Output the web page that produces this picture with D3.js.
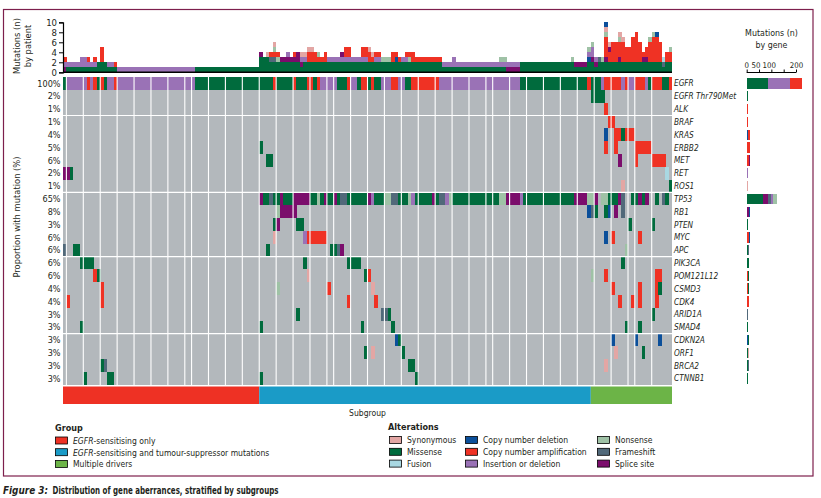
<!DOCTYPE html>
<html><head><meta charset="utf-8">
<script src="https://cdn.jsdelivr.net/npm/d3@7/dist/d3.min.js"></script>
<style>
body{margin:0;background:#fff}
svg{display:block}
text{font-family:"Liberation Sans Narrow","DejaVu Sans Condensed","Liberation Sans",Arial,sans-serif;fill:#231f20}
</style></head><body>
<svg id="c" width="821" height="498"></svg>
<script>
// ---------------- DATA ----------------
const nPatients = 180;
const genes = ["EGFR","EGFR Thr790Met","ALK","BRAF","KRAS","ERBB2","MET","RET","ROS1","TP53","RB1","PTEN","MYC","APC","PIK3CA","POM121L12","CSMD3","CDK4","ARID1A","SMAD4","CDKN2A","ORF1","BRCA2","CTNNB1"];
const pctLabels = ["100%","2%","1%","1%","4%","5%","6%","2%","1%","65%","8%","3%","6%","6%","6%","6%","4%","4%","3%","3%","3%","3%","3%","3%"];
const groupNames = ["EGFR-sensitising only","EGFR-sensitising and tumour-suppressor mutations","Multiple drivers"];
const groupSizes = [58, 98, 24];
const altCodes = ["S","M","F","D","A","I","N","R","P"];
const altNames = ["Synonymous","Missense","Fusion","Copy number deletion","Copy number amplification","Insertion or deletion","Nonsense","Frameshift","Splice site"];
const patientTicks = [0,2,4,6,8,10];
const geneTicks = [0,50,100,150,200];
const geneTickLabels = ["0","50","100","","200"];
// vertical grid separators (patient boundaries)
const gridCols = [1,6,11,16,21,26,31,36,38,43,48,53,58,63,68,73,78,80,85,90,95,100,105,110,115,120,125,127,132,137,142,147,152,157,162,167,169,174];
const gridRows = [3,9,14,20];

// EGFR row, run-length [code, patients]
const egfrRuns = [["M",1],["I",6],["A",1],["I",1],["A",1],["M",1],["A",1],["M",1],["I",2],["A",1],["I",23],["M",19],
 ["M",4],["A",1],["M",5],["A",1],["M",3],["A",2],["M",1],["A",1],["I",5],["M",3],["A",1],["I",2],["M",1],["A",2],["M",1],["A",1],["M",2],["I",3],["A",2],["I",2],["M",2],["A",8],["I",5],
 ["I",19],["M",20],["A",1],["M",3],["I",1],["A",5],["I",1],["A",1],["I",2],["A",3],["I",1],["M",1],["A",3],["M",2],["A",1]];
// TP53 row, run-length ("-" = none)
const tp53Runs = [["-",58],["P",1],["M",2],["R",1],["M",2],["P",1],["M",3],["P",5],["M",2],["N",1],["M",1],["P",1],["M",2],["P",1],["M",1],["R",2],["M",6],["P",1],["I",1],["M",3],["N",2],["R",2],["M",3],["N",1],["I",1],["M",5],["P",1],["M",1],["R",2],["I",1],["N",1],["M",1],
 ["M",13],["N",2],["P",4],["I",1],["M",15],["P",4],["N",1],
 ["N",1],["P",1],["-",1],["N",2],["M",3],["P",1],["R",1],["-",2],["M",2],["P",1],["M",1],["P",1],["-",2],["M",1],["-",1],["R",1],["M",1],["-",1]];
// Other genes: [patient, code]
const sparseCells = {
 "EGFR Thr790Met":[[156,"M"],[157,"M"],[158,"M"],[159,"M"]],
 "ALK":[[160,"A"]],
 "BRAF":[[161,"A"],[162,"A"]],
 "KRAS":[[160,"D"],[163,"A"],[164,"A"],[165,"M"],[166,"A"],[167,"A"],[168,"A"]],
 "ERBB2":[[58,"M"],[160,"A"],[163,"A"],[169,"A"],[170,"A"],[171,"A"],[172,"A"],[173,"A"]],
 "MET":[[60,"M"],[61,"M"],[164,"P"],[169,"A"],[174,"A"],[175,"A"],[176,"A"],[177,"A"]],
 "RET":[[0,"P"],[1,"P"],[2,"M"],[178,"F"]],
 "ROS1":[[165,"S"],[179,"M"]],
 "RB1":[[63,"N"],[64,"P"],[65,"P"],[66,"P"],[67,"P"],[68,"P"],[155,"D"],[156,"R"],[157,"M"],[160,"M"],[161,"D"],[163,"P"],[165,"R"]],
 "PTEN":[[62,"M"],[63,"P"],[69,"M"],[70,"M"],[167,"M"],[174,"M"]],
 "MYC":[[62,"S"],[71,"I"],[72,"A"],[73,"A"],[74,"A"],[75,"A"],[76,"A"],[77,"A"],[160,"D"],[162,"A"],[170,"A"]],
 "APC":[[0,"R"],[3,"M"],[4,"M"],[60,"M"],[79,"M"],[80,"M"],[81,"R"],[82,"P"],[166,"N"]],
 "PIK3CA":[[5,"M"],[6,"M"],[7,"M"],[8,"M"],[71,"M"],[84,"M"],[85,"M"],[86,"M"],[87,"M"],[165,"M"]],
 "POM121L12":[[9,"A"],[10,"M"],[72,"S"],[89,"M"],[90,"A"],[156,"N"],[160,"A"],[175,"A"],[176,"A"]],
 "CSMD3":[[11,"A"],[63,"N"],[78,"A"],[91,"S"],[162,"A"],[170,"A"],[175,"A"],[176,"M"]],
 "CDK4":[[1,"A"],[11,"A"],[84,"A"],[92,"A"],[164,"A"],[168,"A"],[170,"A"],[175,"A"]],
 "ARID1A":[[69,"M"],[94,"R"],[95,"R"],[96,"M"],[174,"M"]],
 "SMAD4":[[5,"M"],[58,"M"],[88,"M"],[97,"M"],[166,"M"],[170,"M"]],
 "CDKN2A":[[98,"D"],[99,"M"],[162,"D"],[169,"D"],[176,"D"]],
 "ORF1":[[89,"M"],[91,"S"],[100,"M"],[163,"S"],[171,"M"]],
 "BRCA2":[[11,"M"],[12,"R"],[102,"M"],[103,"M"],[160,"S"]],
 "CTNNB1":[[6,"M"],[13,"M"],[14,"M"],[58,"M"],[104,"M"]]
};
// Mutations by patient: stacked codes bottom->top, run-length [codes, patients]
const patientStackRuns = [
 ["PIA",1],["MI",4],["MII",2],["MIA",1],["MI",1],["MIA",1],["MM",1],["MMAAA",1],["MM",1],["MI",2],["MA",1],["I",23],["M",19],
 ["MMMP",1],["MMM",1],["MMMS",1],["MMRA",1],["MMRANS",1],["MMNA",1],["MMP",2],["MMPI",1],["MMP",1],["MMPA",1],["MMPP",1],["MPIS",1],["MMIS",1],["MMAAS",2],["MMAA",1],["MMAN",1],["MMA",1],["MMAA",1],["MMI",4],["MMIP",1],["MMIAA",2],["MMI",3],["MMIAA",2],["MMAAS",1],["MMAS",1],["MMIA",2],["MMN",3],["MMAA",1],["MMDA",1],["MMA",1],["MMI",1],["MMIA",1],["MMNA",1],["MMAA",1],["MMA",8],["MI",3],["MII",1],["MI",13],["MIN",2],["PI",4],["MM",15],["MMN",1],["MP",4],["MMDIN",1],
 ["MMPIIN",1],["MPI",1],["MMR",1],["MMN",1],["MMPAAAANSD",1],["MMAAPS",1],["MMAAAA",2],["MMPAAANS",1],["MMAAAAS",1],["MMAAA",2],["MMAAAAA",1],["MMAAAAAA",1],["MMAAAA",1],["MMPA",1],["MMPAA",1],["MMAAAAN",1],["MMAAAAAN",1],["MMAAAAAD",1],["MMAAAA",1],["MRF",1],["MMAA",1],["MMAAN",1]
];
// Mutations by gene: [code, count]
const geneCounts = {
 "EGFR":[["M",88],["I",88],["A",47]],
 "EGFR Thr790Met":[["M",6]],
 "ALK":[["A",3]],
 "BRAF":[["A",3]],
 "KRAS":[["D",4],["R",3],["A",5]],
 "ERBB2":[["A",13]],
 "MET":[["A",9],["P",4]],
 "RET":[["P",3],["I",2]],
 "ROS1":[["S",2]],
 "TP53":[["M",67],["P",20],["R",13],["I",5],["N",17]],
 "RB1":[["P",8],["D",6]],
 "PTEN":[["M",5]],
 "MYC":[["A",10],["D",3]],
 "APC":[["M",6],["R",2]],
 "PIK3CA":[["M",9]],
 "POM121L12":[["A",6],["M",2]],
 "CSMD3":[["A",6],["M",2]],
 "CDK4":[["A",8]],
 "ARID1A":[["M",3],["R",2]],
 "SMAD4":[["M",6]],
 "CDKN2A":[["D",4],["M",1]],
 "ORF1":[["M",4],["S",1]],
 "BRCA2":[["M",4],["R",1]],
 "CTNNB1":[["M",5]]
};

// ---------------- STYLE ----------------
const altColor = {S:"#e3a6a4",M:"#006b3d",F:"#a9d8e2",D:"#0b4f9a",A:"#ef3224",I:"#9a72b6",N:"#9fc2a6",R:"#51697a",P:"#7b0d6c"};
const groupColors = ["#ee3124","#1a9bc7","#6cb447"];
const bgGray = "#b3b8bc";
const frameColor = "#7d1f4c";

function expand(runs){ const out=[]; runs.forEach(([c,n])=>{for(let i=0;i<n;i++) out.push(c);}); return out; }

// ---------------- DRAW ----------------
const svg = d3.select("#c");
const M0 = 63, M1 = 672;
const xB = d3.scaleBand().domain(d3.range(nPatients)).range([M0,M1]);
const xL = d3.scaleLinear().domain([0,nPatients]).range([M0,M1]);
const yRow = d3.scaleBand().domain(genes).range([77,384.9]);
const yTop = d3.scaleLinear().domain([0,10]).range([72.3,22.3]);
const xGene = d3.scaleLinear().domain([0,200]).range([746.7,796]);

// frame
svg.append("rect").attr("x",3.5).attr("y",9.5).attr("width",809.5).attr("height",466.5)
  .attr("fill","none").attr("stroke",frameColor).attr("stroke-width",1.2);

// top stacked bars
const stacks = expand(patientStackRuns);
const topG = svg.append("g").attr("shape-rendering","crispEdges");
stacks.forEach((s,p)=>{
  s.split("").forEach((c,k)=>{
    topG.append("rect").attr("x",xB(p)).attr("width",xB.bandwidth()+0.3)
      .attr("y",yTop(k+1)).attr("height",yTop(k)-yTop(k+1)).attr("fill",altColor[c]);
  });
});
const yAx = svg.append("g").attr("transform",`translate(${M0},0)`)
  .call(d3.axisLeft(yTop).tickValues(patientTicks).tickSize(4).tickPadding(2));
yAx.select(".domain").attr("stroke","#000").attr("stroke-width",1.2);
yAx.selectAll(".tick line").attr("stroke","#000");
yAx.selectAll("text").style("font-size","9.5px").attr("fill","#231f20");
svg.append("line").attr("x1",M0).attr("x2",M1).attr("y1",72.3).attr("y2",72.3).attr("stroke","#000").attr("stroke-width",1.4);

svg.append("text").attr("transform","translate(20,46) rotate(-90)").attr("text-anchor","middle").style("font-size","9.3px").text("Mutations (n)");
svg.append("text").attr("transform","translate(31,46) rotate(-90)").attr("text-anchor","middle").style("font-size","9.3px").text("by patient");

// matrix
const matG = svg.append("g").attr("shape-rendering","crispEdges");
matG.append("rect").attr("x",M0).attr("y",yRow.range()[0]).attr("width",M1-M0)
  .attr("height",yRow.range()[1]-yRow.range()[0]).attr("fill",bgGray);
function drawCells(gene, list){
  matG.selectAll(null).data(list.filter(d=>d[1]!=="-")).enter().append("rect")
    .attr("x",d=>xB(d[0])).attr("width",xB.bandwidth()+0.3)
    .attr("y",yRow(gene)).attr("height",yRow.bandwidth())
    .attr("fill",d=>altColor[d[1]]);
}
drawCells("EGFR", expand(egfrRuns).map((c,i)=>[i,c]));
drawCells("TP53", expand(tp53Runs).map((c,i)=>[i,c]));
Object.keys(sparseCells).forEach(g=>drawCells(g, sparseCells[g]));
// white grid
svg.append("g").selectAll("line").data(gridCols).enter().append("line")
  .attr("x1",d=>xL(d)).attr("x2",d=>xL(d)).attr("y1",yRow.range()[0]).attr("y2",yRow.range()[1])
  .attr("stroke","#fff").attr("stroke-width",1.1);
svg.append("g").selectAll("line").data(gridRows).enter().append("line")
  .attr("x1",M0).attr("x2",M1).attr("y1",d=>yRow(genes[d])).attr("y2",d=>yRow(genes[d]))
  .attr("stroke","#fff").attr("stroke-width",1.2);

// row labels
svg.append("g").selectAll("text").data(genes).enter().append("text")
  .attr("x",674).attr("y",g=>yRow(g)+yRow.bandwidth()/2+3)
  .style("font-size","8.2px").style("font-style","italic").text(g=>g);
svg.append("g").selectAll("text").data(pctLabels).enter().append("text")
  .attr("x",60.5).attr("y",(d,i)=>yRow(genes[i])+yRow.bandwidth()/2+3.2).attr("text-anchor","end")
  .style("font-size","9px").text(d=>d);
svg.append("text").attr("transform","translate(20,217) rotate(-90)").attr("text-anchor","middle")
  .style("font-size","9.3px").text("Proportion with mutation (%)");

// group bar
let acc=0;
groupSizes.forEach((n,i)=>{
  svg.append("rect").attr("x",xL(acc)).attr("width",xL(acc+n)-xL(acc)).attr("y",386.5).attr("height",17.5).attr("fill",groupColors[i]);
  acc+=n;
});
svg.append("text").attr("x",(M0+M1)/2).attr("y",416).attr("text-anchor","middle").style("font-size","8.5px").text("Subgroup");

// gene bar chart
const gbG = svg.append("g").attr("shape-rendering","crispEdges");
genes.forEach(g=>{
  let s=0;
  const h = g==="EGFR"?11.7:10.4;
  (geneCounts[g]||[]).forEach(([c,n])=>{
    gbG.append("rect").attr("x",xGene(s)).attr("width",Math.max(xGene(s+n)-xGene(s),0.9))
      .attr("y",yRow(g)+(yRow.bandwidth()-h)/2).attr("height",h).attr("fill",altColor[c]);
    s+=n;
  });
});
const gAx = svg.append("g").attr("transform","translate(0,72.5)")
  .call(d3.axisTop(xGene).tickValues(geneTicks).tickFormat((d,i)=>geneTickLabels[i]).tickSize(3).tickPadding(1.5));
gAx.select(".domain").attr("stroke","#000").attr("d","M746.7,0H796");
gAx.selectAll(".tick line").attr("stroke","#000");
gAx.selectAll("text").style("font-size","7.8px").attr("fill","#231f20")
  .attr("dx",(d,i)=>[-0.5,-3.6,-2.6,0,0][i]);
svg.append("text").attr("x",771.5).attr("y",36).attr("text-anchor","middle").style("font-size","8.8px").text("Mutations (n)");
svg.append("text").attr("x",771.5).attr("y",47.5).attr("text-anchor","middle").style("font-size","8.8px").text("by gene");

// legends
svg.append("text").attr("x",55).attr("y",431).style("font-size","9px").style("font-weight","bold").text("Group");
groupNames.forEach((n,i)=>{
  const yy = 437 + i*11.7;
  svg.append("rect").attr("x",55.5).attr("y",yy).attr("width",12).attr("height",7).attr("fill",groupColors[i]).attr("stroke","#000").attr("stroke-width",0.8);
  const t = svg.append("text").attr("x",73).attr("y",yy+6.8).style("font-size","8.5px");
  if(n.startsWith("EGFR")){ t.append("tspan").style("font-style","italic").text("EGFR"); t.append("tspan").text(n.slice(4)); }
  else t.text(n);
});
svg.append("text").attr("x",388).attr("y",430).style("font-size","9px").style("font-weight","bold").text("Alterations");
const colX = [389.5, 465.5, 597.5];
altCodes.forEach((c,i)=>{
  const col = Math.floor(i/3), row = i%3;
  const yy = 436.5 + row*11.8;
  svg.append("rect").attr("x",colX[col]).attr("y",yy).attr("width",12).attr("height",7).attr("fill",altColor[c]).attr("stroke","#000").attr("stroke-width",0.8);
  svg.append("text").attr("x",colX[col]+17.5).attr("y",yy+6.8).style("font-size","8.5px").text(altNames[i]);
});

// caption
svg.append("text").attr("x",3).attr("y",494).style("font-size","10px").style("font-weight","bold").style("font-style","italic")
  .attr("textLength",45).attr("lengthAdjust","spacingAndGlyphs").text("Figure 3:");
svg.append("text").attr("x",52.5).attr("y",494).style("font-size","10px").style("font-weight","bold")
  .attr("textLength",226).attr("lengthAdjust","spacingAndGlyphs").text("Distribution of gene aberrances, stratified by subgroups");
</script>
</body></html>
